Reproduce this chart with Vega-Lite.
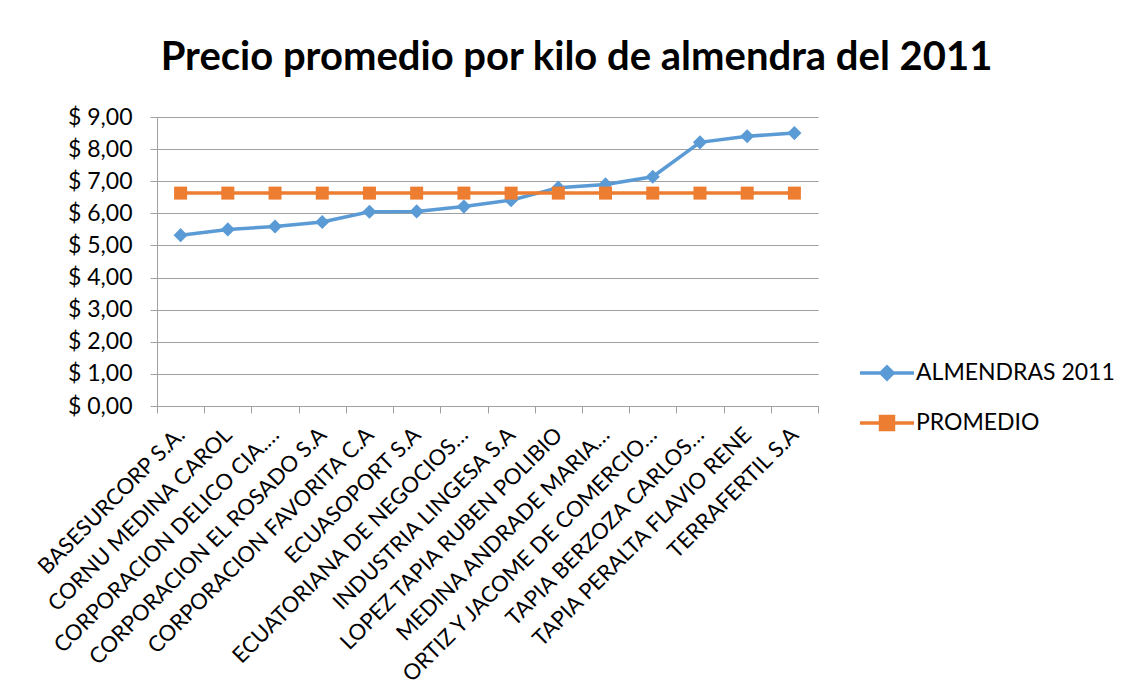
{
  "$schema": "https://vega.github.io/schema/vega-lite/v6.json",
  "width": 661,
  "height": 289,
  "autosize": "none",
  "padding": {"left": 157, "top": 117, "right": 313, "bottom": 294},
  "background": "white",
  "title": {
    "text": "Precio promedio por kilo de almendra del 2011",
    "font": "Lato",
    "fontSize": 40,
    "fontWeight": "bold",
    "color": "#000000",
    "anchor": "middle",
    "frame": "group",
    "dx": 89,
    "offset": 28
  },
  "config": {
    "view": {"stroke": null},
    "font": "Lato"
  },
  "data": {
    "values": [
      {"empresa": "BASESURCORP S.A.", "serie": "ALMENDRAS 2011", "precio": 5.32},
      {"empresa": "CORNU MEDINA CAROL", "serie": "ALMENDRAS 2011", "precio": 5.50},
      {"empresa": "CORPORACION DELICO CIA.…", "serie": "ALMENDRAS 2011", "precio": 5.59},
      {"empresa": "CORPORACION EL ROSADO S.A", "serie": "ALMENDRAS 2011", "precio": 5.73},
      {"empresa": "CORPORACION FAVORITA C.A", "serie": "ALMENDRAS 2011", "precio": 6.05},
      {"empresa": "ECUASOPORT S.A", "serie": "ALMENDRAS 2011", "precio": 6.06},
      {"empresa": "ECUATORIANA DE NEGOCIOS…", "serie": "ALMENDRAS 2011", "precio": 6.21},
      {"empresa": "INDUSTRIA LINGESA S.A", "serie": "ALMENDRAS 2011", "precio": 6.41},
      {"empresa": "LOPEZ TAPIA RUBEN POLIBIO", "serie": "ALMENDRAS 2011", "precio": 6.80},
      {"empresa": "MEDINA ANDRADE MARIA…", "serie": "ALMENDRAS 2011", "precio": 6.90},
      {"empresa": "ORTIZ Y JACOME DE COMERCIO…", "serie": "ALMENDRAS 2011", "precio": 7.14},
      {"empresa": "TAPIA BERZOZA CARLOS…", "serie": "ALMENDRAS 2011", "precio": 8.21},
      {"empresa": "TAPIA PERALTA FLAVIO RENE", "serie": "ALMENDRAS 2011", "precio": 8.40},
      {"empresa": "TERRAFERTIL S.A", "serie": "ALMENDRAS 2011", "precio": 8.50},
      {"empresa": "BASESURCORP S.A.", "serie": "PROMEDIO", "precio": 6.63},
      {"empresa": "CORNU MEDINA CAROL", "serie": "PROMEDIO", "precio": 6.63},
      {"empresa": "CORPORACION DELICO CIA.…", "serie": "PROMEDIO", "precio": 6.63},
      {"empresa": "CORPORACION EL ROSADO S.A", "serie": "PROMEDIO", "precio": 6.63},
      {"empresa": "CORPORACION FAVORITA C.A", "serie": "PROMEDIO", "precio": 6.63},
      {"empresa": "ECUASOPORT S.A", "serie": "PROMEDIO", "precio": 6.63},
      {"empresa": "ECUATORIANA DE NEGOCIOS…", "serie": "PROMEDIO", "precio": 6.63},
      {"empresa": "INDUSTRIA LINGESA S.A", "serie": "PROMEDIO", "precio": 6.63},
      {"empresa": "LOPEZ TAPIA RUBEN POLIBIO", "serie": "PROMEDIO", "precio": 6.63},
      {"empresa": "MEDINA ANDRADE MARIA…", "serie": "PROMEDIO", "precio": 6.63},
      {"empresa": "ORTIZ Y JACOME DE COMERCIO…", "serie": "PROMEDIO", "precio": 6.63},
      {"empresa": "TAPIA BERZOZA CARLOS…", "serie": "PROMEDIO", "precio": 6.63},
      {"empresa": "TAPIA PERALTA FLAVIO RENE", "serie": "PROMEDIO", "precio": 6.63},
      {"empresa": "TERRAFERTIL S.A", "serie": "PROMEDIO", "precio": 6.63}
    ]
  },
  "encoding": {
    "x": {
      "field": "empresa",
      "type": "nominal",
      "sort": null,
      "scale": {"type": "band", "paddingInner": 0, "paddingOuter": 0},
      "axis": {
        "title": null,
        "tickBand": "extent",
        "domainColor": "#a0a0a0",
        "tickColor": "#a0a0a0",
        "tickSize": 7,
        "labelAngle": -45,
        "labelAlign": "right",
        "labelBaseline": "middle",
        "labelPadding": 18,
        "labelFont": "Lato",
        "labelFontSize": 22,
        "labelColor": "#000000",
        "labelLimit": 500,
        "grid": false
      }
    },
    "y": {
      "field": "precio",
      "type": "quantitative",
      "scale": {"domain": [0, 9], "nice": false},
      "axis": {
        "title": null,
        "values": [0, 1, 2, 3, 4, 5, 6, 7, 8, 9],
        "labelExpr": "'$ ' + replace(format(datum.value, '.2f'), '.', ',')",
        "domainColor": "#a0a0a0",
        "tickColor": "#a0a0a0",
        "tickSize": 7,
        "gridColor": "#a0a0a0",
        "gridWidth": 1,
        "labelPadding": 18,
        "labelFont": "Lato",
        "labelFontSize": 23,
        "labelColor": "#000000"
      }
    },
    "color": {
      "field": "serie",
      "type": "nominal",
      "scale": {"domain": ["ALMENDRAS 2011", "PROMEDIO"], "range": ["#5B9BD5", "#ED7D31"]},
      "legend": {
        "title": null,
        "orient": "none",
        "legendX": 714.5,
        "legendY": 240.5,
        "padding": 0,
        "symbolSize": 729,
        "rowPadding": 21,
        "labelOffset": 13.5,
        "labelFont": "Lato",
        "labelFontSize": 23,
        "labelColor": "#000000",
        "labelLimit": 300,
        "symbolStrokeWidth": 3.5,
        "encode": {
          "symbols": {
            "update": {
              "shape": {"signal": "datum.value === 'PROMEDIO' ? 'M-2,0L2,0M-0.48,-0.48L0.48,-0.48L0.48,0.48L-0.48,0.48Z' : 'M-2,0L2,0M0,-0.45L0.45,0L0,0.45L-0.45,0Z'"},
              "fill": {"scale": "color", "field": "value"},
              "stroke": {"scale": "color", "field": "value"},
              "strokeWidth": {"value": 3.5},
              "size": {"value": 729},
              "opacity": {"value": 1},
              "fillOpacity": {"value": 1}
            }
          }
        }
      }
    }
  },
  "layer": [
    {
      "mark": {"type": "line", "strokeWidth": 3.5}
    },
    {
      "transform": [{"filter": "datum.serie === 'ALMENDRAS 2011'"}],
      "mark": {"type": "point", "filled": true, "opacity": 1, "shape": "diamond", "size": 200}
    },
    {
      "transform": [{"filter": "datum.serie === 'PROMEDIO'"}],
      "mark": {"type": "point", "filled": true, "opacity": 1, "shape": "square", "size": 169}
    }
  ]
}
